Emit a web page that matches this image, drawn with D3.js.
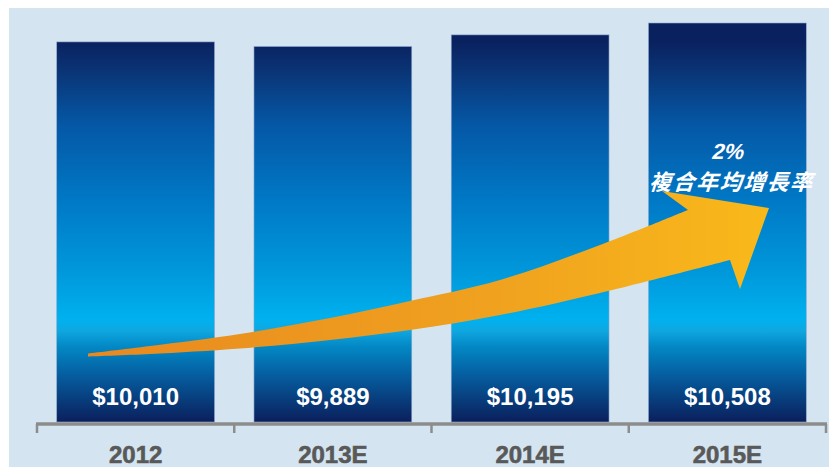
<!DOCTYPE html>
<html>
<head>
<meta charset="utf-8">
<script src="https://cdn.jsdelivr.net/npm/d3@7/dist/d3.min.js"></script>
<style>
  html, body { margin: 0; padding: 0; background: #ffffff; }
  svg { display: block; }
</style>
</head>
<body>
<svg id="chart" width="829" height="471"></svg>
<script>
// ---- data ----
const categories = ["2012", "2013E", "2014E", "2015E"];
const values = [10010, 9889, 10195, 10508];
const valueLabels = ["$10,010", "$9,889", "$10,195", "$10,508"];
const cagrValue = "2%";
const cagrLabel = "複合年均增長率";

// ---- layout ----
const W = 829, H = 471;
const svg = d3.select("#chart");
const plot = { left: 37, right: 826, top: 23, bottom: 422 };

const x = d3.scaleBand()
  .domain(categories)
  .range([plot.left, plot.right])
  .paddingInner(0.2)
  .paddingOuter(0.1);

const y = d3.scaleLinear()
  .domain([0, 10508])
  .range([plot.bottom, plot.top]);

const defs = svg.append("defs");

// bar gradient (shared, in user space)
const bg = defs.append("linearGradient")
  .attr("id", "barGrad")
  .attr("gradientUnits", "userSpaceOnUse")
  .attr("x1", 0).attr("x2", 0)
  .attr("y1", y(10010)).attr("y2", plot.bottom);
[
  [0.00, "#0a215f"],
  [0.08, "#0a3577"],
  [0.22, "#0558a6"],
  [0.42, "#0079c6"],
  [0.60, "#0097da"],
  [0.73, "#00b1ef"],
  [0.76, "#0fa7e0"],
  [0.80, "#0389c6"],
  [0.88, "#055c9e"],
  [1.00, "#0b1f5c"]
].forEach(([o, c]) => bg.append("stop").attr("offset", o).attr("stop-color", c));

// arrow gradient
const ag = defs.append("linearGradient")
  .attr("id", "arrowGrad")
  .attr("gradientUnits", "userSpaceOnUse")
  .attr("x1", 88).attr("x2", 770).attr("y1", 0).attr("y2", 0);
ag.append("stop").attr("offset", 0).attr("stop-color", "#e8891f");
ag.append("stop").attr("offset", 0.6).attr("stop-color", "#f0a21f");
ag.append("stop").attr("offset", 1).attr("stop-color", "#f9b91a");

// background panel
svg.append("rect")
  .attr("x", 9).attr("y", 8)
  .attr("width", W - 9).attr("height", 459)
  .attr("fill", "#d4e5f1");

// bars
svg.append("g").selectAll("rect")
  .data(categories)
  .join("rect")
  .attr("x", d => x(d))
  .attr("y", (d, i) => y(values[i]))
  .attr("width", x.bandwidth())
  .attr("height", (d, i) => plot.bottom - y(values[i]))
  .attr("fill", "url(#barGrad)")
  .attr("stroke", "#8fa8cc")
  .attr("stroke-width", 0.6);

// value labels
svg.append("g").selectAll("text")
  .data(categories)
  .join("text")
  .attr("x", d => x(d) + x.bandwidth() / 2)
  .attr("y", 405)
  .attr("text-anchor", "middle")
  .attr("fill", "#ffffff")
  .attr("font-family", "Liberation Sans, Arial, sans-serif")
  .attr("font-weight", "bold")
  .attr("font-size", 24)
  .text((d, i) => valueLabels[i]);

// x axis
const axisY = 424;
const axisG = svg.append("g").attr("transform", `translate(0,${axisY})`);
axisG.call(d3.axisBottom(x).tickSize(0).tickPadding(18));
axisG.select(".domain").remove();
axisG.selectAll("text")
  .attr("fill", "#595959")
  .attr("font-family", "Liberation Sans, Arial, sans-serif")
  .attr("font-weight", "bold")
  .attr("font-size", 24)
  .attr("dy", "0.72em")
  .attr("y", 22)
  .attr("stroke", "#595959")
  .attr("stroke-width", 0.6);

axisG.append("line")
  .attr("x1", plot.left - 1).attr("x2", plot.right + 1)
  .attr("y1", 0).attr("y2", 0)
  .attr("stroke", "#8c8c8c").attr("stroke-width", 3.5);

const step = x.step();
const boundaries = d3.range(categories.length + 1).map(i => plot.left + i * step);
axisG.selectAll("line.bnd")
  .data(boundaries)
  .join("line")
  .attr("class", "bnd")
  .attr("x1", d => d).attr("x2", d => d)
  .attr("y1", 0).attr("y2", 9)
  .attr("stroke", "#8c8c8c").attr("stroke-width", 2.5);

// growth arrow (annotation)
const upper = [[88, 353.5], [150, 346], [240, 334], [330, 318], [410, 301], [500, 280], [600, 245], [688, 210]];
const lower = [[730, 260], [600, 293], [500, 315], [410, 330], [330, 340], [240, 348.5], [150, 354], [88, 356.5]];
const head = [[662, 191], [769, 208], [740, 289]];
const edge = d3.line().curve(d3.curveCatmullRom.alpha(0.5));
const upperPath = edge(upper);
const lowerPath = edge(lower).replace(/^M/, "L");
const headPath = head.map(p => "L" + p[0] + "," + p[1]).join("");
svg.append("path")
  .attr("d", upperPath + headPath + lowerPath + "Z")
  .attr("fill", "url(#arrowGrad)");

// CAGR text
const cx = 727;
svg.append("text")
  .attr("transform", `translate(${cx},159) skewX(-14)`)
  .attr("text-anchor", "middle")
  .attr("fill", "#ffffff")
  .attr("font-family", "Liberation Sans, Arial, sans-serif")
  .attr("font-weight", "bold")
  .attr("font-size", 22)
  .text(cagrValue);

svg.append("text")
  .attr("transform", `translate(${cx + 4},190) skewX(-18)`)
  .attr("text-anchor", "middle")
  .attr("fill", "#ffffff")
  .attr("font-family", "Noto Sans CJK TC, Noto Sans CJK SC, sans-serif")
  .attr("font-weight", "bold")
  .attr("font-size", 22)
  .attr("letter-spacing", 1.5)
  .text(cagrLabel);
</script>
</body>
</html>
